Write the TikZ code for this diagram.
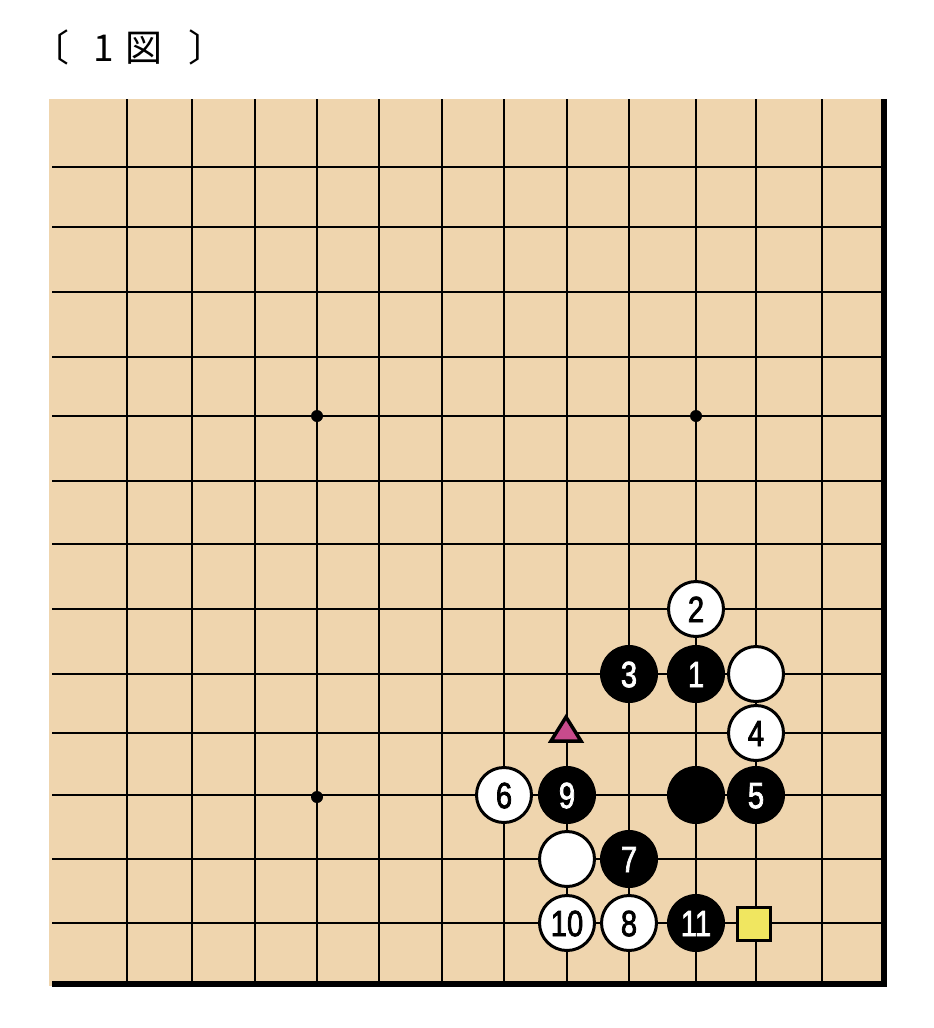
\documentclass[tikz,border=0pt]{standalone}
\usepackage{fontspec}
\newfontfamily\cjkfont{Noto Sans CJK JP}
\newfontfamily\numfont[FakeStretch=0.8,FakeBold=2]{Liberation Sans}
\definecolor{boardtan}{RGB}{239,213,174}
\definecolor{trimag}{RGB}{200,75,140}
\definecolor{sqyel}{RGB}{240,230,96}
\tikzset{
  gridline/.style={line width=2pt, black},
  edgeline/.style={line width=5.5pt, black},
  stone/.style={circle, inner sep=0pt, font=\numfont\fontsize{36.5}{36.5}\selectfont, text height=26.2pt, text depth=0pt},
  bstone/.style={stone, fill=black, minimum size=58pt, text=white},
  wstone/.style={stone, fill=white, draw=black, line width=3pt, minimum size=55pt, text=black},
  starpt/.style={circle, fill=black, inner sep=0pt, minimum size=12pt},
  titlechar/.style={inner sep=0pt, anchor=base, font=\cjkfont\fontsize{37}{37}\selectfont},
}
\begin{document}
\begin{tikzpicture}[x=1pt,y=-1pt]
\useasboundingbox (0,0) rectangle (934,1028);
% board
\fill[boardtan] (49,99) rectangle (885,986);
\foreach \cx in {127,192,255,317,379,442,504,567,629,696,756,822}
  \draw[gridline] (\cx,99) -- (\cx,984);
\foreach \ry in {167,227,292,357,416,481,544,609,674,733,795,859,923}
  \draw[gridline] (52,\ry) -- (884,\ry);
\draw[edgeline] (884,99) -- (884,987);
\draw[edgeline] (52,984) -- (887,984);
% star points
\node[starpt] (s1) at (317,416) {};
\node[starpt] (s2) at (696,416) {};
\node[starpt] (s3) at (317,797) {};
% title
\node[titlechar, anchor=base east] (tl) at (70,61.5) {〔};
\node[titlechar] (t1) at (104,61.5) {1};
\node[titlechar] (t2) at (143.5,61.5) {図};
\node[titlechar, anchor=base west] (tr) at (188,61.5) {〕};
% stones
\node[wstone] (w2) at (696,609) {2};
\node[bstone] (b3) at (629,674) {3};
\node[bstone] (b1) at (696,674) {1};
\node[wstone] (wa) at (756,674) {};
\node[wstone] (w4) at (756,733) {4};
\node[wstone] (w6) at (504,795) {6};
\node[bstone] (b9) at (567,795) {9};
\node[bstone] (ba) at (696,795) {};
\node[bstone] (b5) at (756,795) {5};
\node[wstone] (wb) at (567,859) {};
\node[bstone] (b7) at (629,859) {7};
\node[wstone] (w10) at (567,923) {10};
\node[wstone] (w8) at (629,923) {8};
\node[bstone] (b11) at (696,923) {11};
% markers
\draw[fill=trimag, line width=3.5pt, line join=miter] (566,717) -- (581,741) -- (551,741) -- cycle;
\node[rectangle, fill=sqyel, draw=black, line width=3pt, minimum size=33pt, inner sep=0pt] (sq) at (754,924) {};
\end{tikzpicture}
\end{document}
